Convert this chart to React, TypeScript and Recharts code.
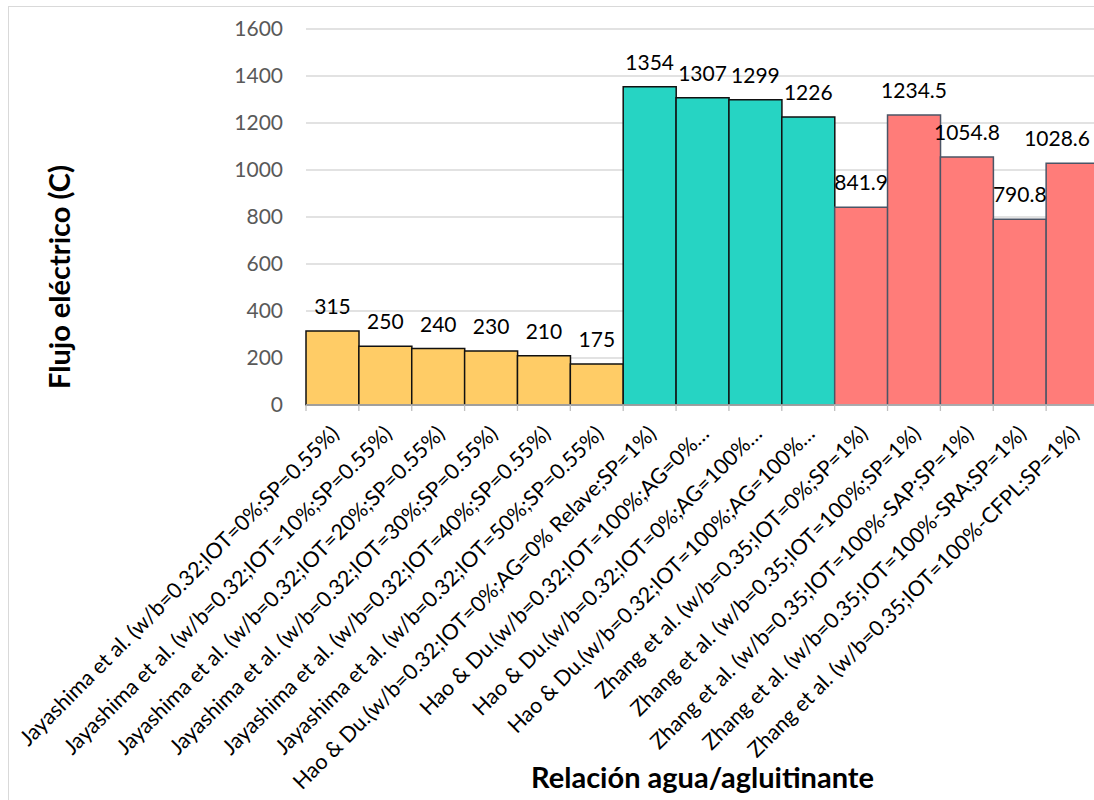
import React from 'react';
import { BarChart, Bar, XAxis, YAxis, CartesianGrid, Cell, LabelList, Label } from 'recharts';

// Electric flux (C) per mix, grouped by study
const categories = [
  'Jayashima et al. (w/b=0.32;IOT=0%;SP=0.55%)',
  'Jayashima et al. (w/b=0.32;IOT=10%;SP=0.55%)',
  'Jayashima et al. (w/b=0.32;IOT=20%;SP=0.55%)',
  'Jayashima et al. (w/b=0.32;IOT=30%;SP=0.55%)',
  'Jayashima et al. (w/b=0.32;IOT=40%;SP=0.55%)',
  'Jayashima et al. (w/b=0.32;IOT=50%;SP=0.55%)',
  'Hao & Du.(w/b=0.32;IOT=0%;AG=0% Relave;SP=1%)',
  'Hao & Du.(w/b=0.32;IOT=100%;AG=0%…',
  'Hao & Du.(w/b=0.32;IOT=0%;AG=100%…',
  'Hao & Du.(w/b=0.32;IOT=100%;AG=100%…',
  'Zhang et al. (w/b=0.35;IOT=0%;SP=1%)',
  'Zhang et al. (w/b=0.35;IOT=100%;SP=1%)',
  'Zhang et al. (w/b=0.35;IOT=100%-SAP;SP=1%)',
  'Zhang et al. (w/b=0.35;IOT=100%-SRA;SP=1%)',
  'Zhang et al. (w/b=0.35;IOT=100%-CFPL;SP=1%)',
];

const flux = [315, 250, 240, 230, 210, 175, 1354, 1307, 1299, 1226, 841.9, 1234.5, 1054.8, 790.8, 1028.6];

const study = [
  'jayashima', 'jayashima', 'jayashima', 'jayashima', 'jayashima', 'jayashima',
  'hao', 'hao', 'hao', 'hao',
  'zhang', 'zhang', 'zhang', 'zhang', 'zhang',
];

const yTicks = [0, 200, 400, 600, 800, 1000, 1200, 1400, 1600];

const fills: Record<string, string> = { jayashima: '#FFCC66', hao: '#26D4C3', zhang: '#FF7C79' };
const strokes: Record<string, string> = { jayashima: '#111111', hao: '#111111', zhang: '#4B5566' };

const data = categories.map((name, i) => ({ name, value: flux[i], study: study[i] }));

const VIEW_W = 1094;
const CHART_W = 1110;
const CHART_H = 800;
const MARGIN = { top: 29, right: 11, left: 0, bottom: 0 };
const Y_AXIS_W = 306;
const X_AXIS_H = 395;
const PLOT_W = CHART_W - MARGIN.left - MARGIN.right - Y_AXIS_W;
const FONT = 'Lato, "Open Sans", sans-serif';

const CategoryTick = (props: any) => {
  const { x, y, payload } = props;
  const bw = PLOT_W / categories.length;
  const bx = x - bw / 2;
  const ax = x + 8;
  const ay = y + 30;
  return (
    <g>
      <line x1={bx} y1={y} x2={bx} y2={y + 6} stroke="#BFBFBF" strokeWidth={1.3} />
      <text
        x={ax}
        y={ay}
        transform={`rotate(-45, ${ax}, ${ay})`}
        textAnchor="end"
        fontSize={21.5}
        fontFamily={FONT}
        fill="#000000"
      >
        {payload.value}
      </text>
    </g>
  );
};

const ValueLabel = (props: any) => {
  const { x, y, width, value } = props;
  const cx = x + width / 2;
  const overflow = x + width > VIEW_W;
  return (
    <text
      x={overflow ? VIEW_W - 4 : cx}
      y={y - 17}
      textAnchor={overflow ? 'end' : 'middle'}
      fontSize={21}
      fontFamily={FONT}
      fill="#000000"
    >
      {value}
    </text>
  );
};

export default function App() {
  return (
    <div
      style={{
        position: 'fixed',
        left: 0,
        top: 0,
        width: VIEW_W,
        height: CHART_H,
        overflow: 'hidden',
        background: '#ffffff',
      }}
    >
      <div
        style={{
          position: 'absolute',
          left: 8,
          top: 6,
          width: 1300,
          height: 1000,
          border: '1.5px solid #D9D9D9',
          boxSizing: 'border-box',
        }}
      />
      <div style={{ position: 'absolute', left: 0, top: 0 }}>
        <BarChart width={CHART_W} height={CHART_H} data={data} margin={MARGIN} barCategoryGap={0}>
          <CartesianGrid vertical={false} stroke="#D9D9D9" strokeWidth={1.5} />
          <XAxis
            dataKey="name"
            height={X_AXIS_H}
            interval={0}
            tickSize={0}
            tickMargin={0}
            tickLine={false}
            axisLine={{ stroke: '#BFBFBF', strokeWidth: 1.5 }}
            tick={<CategoryTick />}
          >
            <Label
              value="Relación agua/agluitinante"
              position="insideBottom"
              offset={12}
              style={{ fontSize: 29, fontWeight: 700, fontFamily: FONT, fill: '#000000' }}
            />
          </XAxis>
          <YAxis
            width={Y_AXIS_W}
            domain={[0, 1600]}
            ticks={yTicks}
            interval={0}
            axisLine={false}
            tickLine={false}
            tickSize={0}
            tickMargin={23}
            tick={{ fontSize: 21, fontFamily: FONT, fill: '#595959' }}
          >
            <Label
              content={() => (
                <text
                  x={70}
                  y={277}
                  transform="rotate(-90, 70, 277)"
                  textAnchor="middle"
                  fontSize={29}
                  fontWeight={700}
                  fontFamily={FONT}
                  fill="#000000"
                >
                  Flujo eléctrico (C)
                </text>
              )}
            />
          </YAxis>
          <Bar dataKey="value" isAnimationActive={false} strokeWidth={1.5}>
            {data.map((d, i) => (
              <Cell key={i} fill={fills[d.study]} stroke={strokes[d.study]} />
            ))}
            <LabelList dataKey="value" content={<ValueLabel />} />
          </Bar>
        </BarChart>
      </div>
    </div>
  );
}
